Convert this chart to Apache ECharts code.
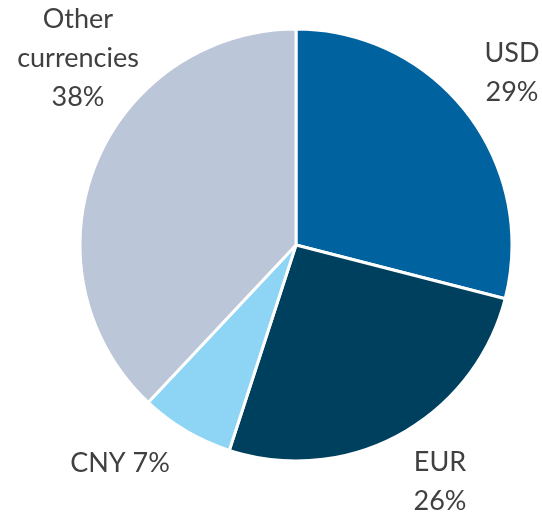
<!DOCTYPE html>
<html>
<head>
<meta charset="utf-8">
<script src="https://cdn.jsdelivr.net/npm/echarts@6/dist/echarts.min.js"></script>
<style>
html, body { margin: 0; padding: 0; background: #fff; }
#main { width: 542px; height: 515px; }
</style>
</head>
<body>
<div id="main"></div>
<script>
var categories = ['USD', 'EUR', 'CNY', 'Other\ncurrencies'];
var shares = [29, 26, 7, 38];
var colors = ['#0063a0', '#00405f', '#8dd4f5', '#bcc6d9'];
// label anchor points (centre of each text block)
var labelPos = [[512, 73], [440, 482], [120, 463], [78, 58]];

function showSharePie() {
    var chart = echarts.init(document.getElementById('main'));
    var pieData = [];
    for (var i = 0; i < categories.length; i++) {
        pieData.push({
            name: categories[i],
            value: shares[i],
            itemStyle: { color: colors[i] },
            label: {
                formatter: i == 2 ? '{b} {d}%' : '{b}\n{d}%'
            }
        });
    }
    var option = {
        animation: false,
        series: [
            {
                type: 'pie',
                center: [296, 245],
                radius: 216,
                startAngle: 90,
                clockwise: true,
                data: pieData,
                itemStyle: {
                    borderColor: '#ffffff',
                    borderWidth: 3
                },
                label: {
                    show: true,
                    color: '#404040',
                    fontFamily: 'Lato',
                    fontSize: 27,
                    lineHeight: 39,
                    align: 'center',
                    overflow: 'none',
                    width: 200
                },
                labelLine: { show: false },
                labelLayout: function (params) {
                    var p = labelPos[params.dataIndex];
                    return {
                        x: p[0],
                        y: p[1],
                        align: 'center',
                        verticalAlign: 'middle'
                    };
                }
            }
        ]
    };
    chart.setOption(option);
}
showSharePie();
</script>
</body>
</html>
